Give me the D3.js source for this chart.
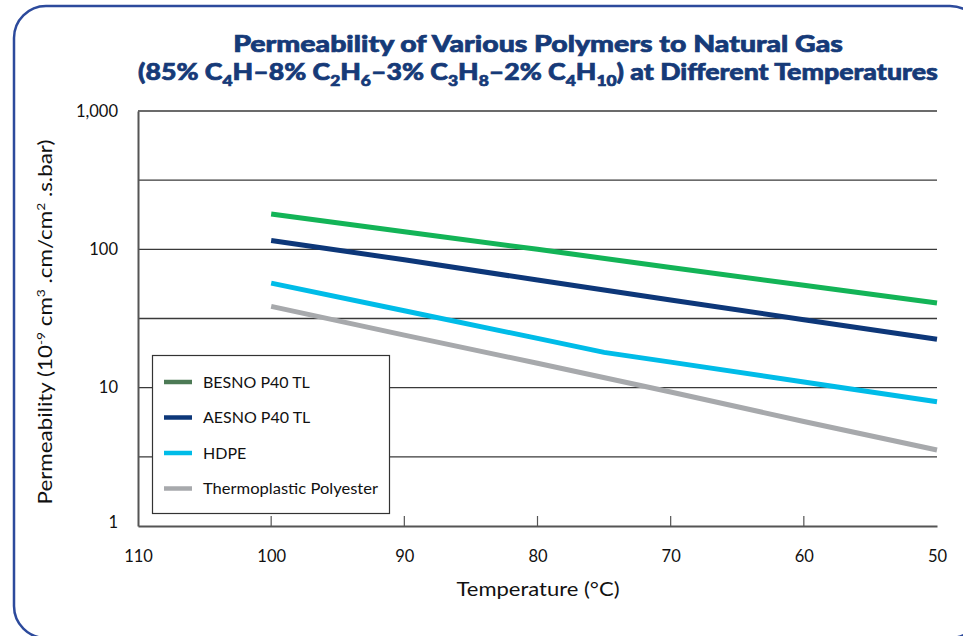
<!DOCTYPE html>
<html><head><meta charset="utf-8">
<script src="https://cdn.jsdelivr.net/npm/d3@7"></script>
<style>
html,body{margin:0;padding:0;background:#fff;}
svg{display:block;}
text{font-family:Lato,"Open Sans",sans-serif;}
</style></head>
<body><svg id="chart" width="963" height="636"></svg>
<script>
// ---- data ----
const temps = [100, 90, 80, 70, 60, 50];
const besno = [180, 134, 100, 74, 55, 41];
const aesno = [116, 84, 60, 43, 31, 22.4];
const hdpeTemps = [100, 90, 80, 75, 70, 60, 50];
const hdpe = [57, 36, 22.7, 18, 15.3, 11, 7.9];
const polyester = [38.7, 24, 15, 9.3, 5.7, 3.54];
const xTicks = [110, 100, 90, 80, 70, 60, 50];
const yTicks = [1, 10, 100, 1000];
const yTickLabels = ["1", "10", "100", "1,000"];
const gridValues = [3.162, 10, 31.62, 100, 316.2, 1000];
const seriesNames = ["BESNO P40 TL", "AESNO P40 TL", "HDPE", "Thermoplastic Polyester"];
const lineColors = ["#13b457", "#0d3779", "#00bce8", "#a7a9ac"];
const legendColors = ["#4c7a55", "#0d3779", "#00bce8", "#a7a9ac"];

const svg = d3.select("#chart");
const x = d3.scaleLinear().domain([110, 50]).range([138, 937]);
const y = d3.scaleLog().domain([1, 1000]).range([526, 111]);

function fitWidth(sel, target) {
  const node = sel.node();
  const bb = node.getBBox();
  const cx = bb.x + bb.width / 2;
  const k = target / bb.width;
  sel.attr("transform", `translate(${cx},0) scale(${k},1) translate(${-cx},0)`);
}

// border
svg.append("rect").attr("x", 14).attr("y", 6).attr("width", 968).attr("height", 632)
  .attr("rx", 32).attr("ry", 32).attr("fill", "none").attr("stroke", "#2c4a9c").attr("stroke-width", 2.5);

// title
const titleColor = "#163a78";
const t1 = svg.append("text").attr("x", 538).attr("y", 52).attr("text-anchor", "middle")
  .attr("fill", titleColor).attr("stroke", titleColor).attr("stroke-width", 0.7)
  .attr("font-size", 23).attr("font-weight", 900)
  .text("Permeability of Various Polymers to Natural Gas");
fitWidth(t1, 610);
const t2 = svg.append("text").attr("x", 538).attr("y", 80).attr("text-anchor", "middle")
  .attr("fill", titleColor).attr("stroke", titleColor).attr("stroke-width", 0.7)
  .attr("font-size", 23).attr("font-weight", 900);
const parts = [["(85% C",0],["4",1],["H–8% C",0],["2",1],["H",0],["6",1],["–3% C",0],["3",1],["H",0],["8",1],["–2% C",0],["4",1],["H",0],["10",1],[") at Different Temperatures",0]];
let prevSub = 0;
parts.forEach(([s, sub]) => {
  const ts = t2.append("tspan").text(s);
  const dy = (sub ? 6 : 0) - (prevSub ? 6 : 0);
  if (dy) ts.attr("dy", dy);
  if (sub) ts.attr("font-size", 15);
  prevSub = sub;
});
fitWidth(t2, 800);

// gridlines
svg.append("g").selectAll("line").data(gridValues).join("line")
  .attr("x1", 138).attr("x2", 937)
  .attr("y1", d => y(d)).attr("y2", d => y(d))
  .attr("stroke", "#3a3a3a").attr("stroke-width", 1.3);

// axes
const xAxis = d3.axisBottom(x).tickValues(xTicks).tickSize(0).tickPadding(24).tickFormat(d3.format("d"));
const gx = svg.append("g").attr("transform", "translate(0,526)").call(xAxis);
gx.select(".domain").attr("stroke", "#555").attr("stroke-width", 2);
gx.selectAll("text").attr("font-size", 16.5).attr("fill", "#111");
// inward ticks
svg.append("g").selectAll("line").data(xTicks.filter(d => d !== 110 && d !== 50)).join("line")
  .attr("x1", d => x(d)).attr("x2", d => x(d)).attr("y1", 526).attr("y2", 516)
  .attr("stroke", "#555").attr("stroke-width", 1.2);

const yAxis = d3.axisLeft(y).tickValues(yTicks).tickSize(0).tickPadding(20)
  .tickFormat((d, i) => yTickLabels[i]);
const gy = svg.append("g").attr("transform", "translate(138,0)").call(yAxis);
gy.select(".domain").attr("stroke", "#555").attr("stroke-width", 2);
gy.selectAll("text").attr("font-size", 16.5).attr("fill", "#111");
gy.selectAll(".tick").filter(d => d === 1).select("text").attr("dy", "0.1em");

// axis titles
svg.append("text").attr("x", 538).attr("y", 596).attr("text-anchor", "middle")
  .attr("font-size", 20).attr("fill", "#111")
  .attr("textLength", 163).attr("lengthAdjust", "spacingAndGlyphs")
  .text("Temperature (°C)");
const yt = svg.append("text").attr("transform", "translate(52,322) rotate(-90)")
  .attr("text-anchor", "middle").attr("font-size", 19.5).attr("fill", "#111");
yt.append("tspan").text("Permeability (10");
yt.append("tspan").attr("dy", -7).attr("font-size", 12).text("-9");
yt.append("tspan").attr("dy", 7).text(" cm");
yt.append("tspan").attr("dy", -7).attr("font-size", 12).text("3");
yt.append("tspan").attr("dy", 7).text(" .cm/cm");
yt.append("tspan").attr("dy", -7).attr("font-size", 12).text("2");
yt.append("tspan").attr("dy", 7).text(" .s.bar)");
fitWidth(yt, 365);
// fitWidth assumes unrotated; redo scale in local coordinates
(function(){
  const bb = yt.node().getBBox();
  const k = 365 / bb.width;
  yt.attr("transform", `translate(52,322) rotate(-90) scale(${k},1)`);
})();

// lines
const line = d3.line().x(d => x(d[0])).y(d => y(d[1]));
const series = [
  temps.map((t, i) => [t, besno[i]]),
  temps.map((t, i) => [t, aesno[i]]),
  hdpeTemps.map((t, i) => [t, hdpe[i]]),
  temps.map((t, i) => [t, polyester[i]])
];
const drawOrder = [3, 2, 1, 0];
svg.append("g").selectAll("path").data(drawOrder).join("path")
  .attr("d", i => line(series[i])).attr("fill", "none")
  .attr("stroke", i => lineColors[i]).attr("stroke-width", 5);

// legend
const lg = svg.append("g");
lg.append("rect").attr("x", 152.5).attr("y", 355.5).attr("width", 237).attr("height", 158)
  .attr("fill", "#fff").attr("stroke", "#333").attr("stroke-width", 1.2);
const items = lg.selectAll("g.item").data(seriesNames).join("g").attr("class", "item")
  .attr("transform", (d, i) => `translate(0,${382 + i * 35.5})`);
items.append("line").attr("x1", 164).attr("x2", 192).attr("y1", 0).attr("y2", 0)
  .attr("stroke", (d, i) => legendColors[i]).attr("stroke-width", 4.5);
items.append("text").attr("x", 203).attr("y", 0).attr("dy", "0.35em")
  .attr("font-size", 16).attr("fill", "#111").text(d => d);
items.selectAll("text").each(function(d){
  if (d === "Thermoplastic Polyester") d3.select(this).attr("textLength", 175).attr("lengthAdjust", "spacingAndGlyphs");
});
</script>
</body></html>
